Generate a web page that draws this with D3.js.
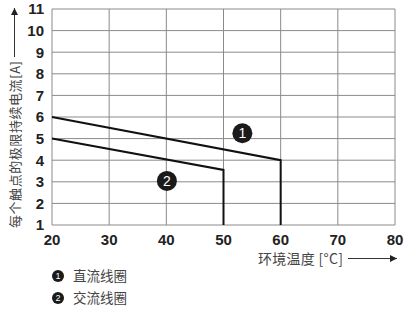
<!DOCTYPE html>
<html>
<head>
<meta charset="utf-8">
<script src="https://cdn.jsdelivr.net/npm/d3@7"></script>
<style>
  body { margin: 0; background: #fff; }
  text { font-family: "Liberation Sans", Arial, sans-serif; }
  .cjk { font-family: "Noto Sans CJK SC", sans-serif; }
</style>
</head>
<body>
<script>
var xTicks = [20, 30, 40, 50, 60, 70, 80];
var yTicks = [1, 2, 3, 4, 5, 6, 7, 8, 9, 10, 11];

// curve 1: DC coil, curve 2: AC coil
var dcCurve = [[20, 6], [60, 4], [60, 1]];
var acCurve = [[20, 5], [50, 3.55], [50, 1]];

var curveMarks = [
  { id: '1', x: 53.3, y: 5.25 },
  { id: '2', x: 40.1, y: 3.04 }
];
var legendItems = [
  { id: '1', label: '直流线圈' },
  { id: '2', label: '交流线圈' }
];

var width = 408, height = 310;
var svg = d3.select('body').append('svg').attr('width', width).attr('height', height);

var x = d3.scaleLinear().domain([20, 80]).range([52, 395]);
var y = d3.scaleLinear().domain([1, 11]).range([225, 9]);

// grid
svg.append('g').selectAll('line').data(yTicks).enter().append('line')
  .attr('x1', x(20)).attr('x2', x(80))
  .attr('y1', function(d) { return y(d); }).attr('y2', function(d) { return y(d); })
  .attr('stroke', '#8a8a8a').attr('stroke-width', 1);
svg.append('g').selectAll('line').data(xTicks).enter().append('line')
  .attr('y1', y(1)).attr('y2', y(11))
  .attr('x1', function(d) { return x(d); }).attr('x2', function(d) { return x(d); })
  .attr('stroke', '#8a8a8a').attr('stroke-width', 1);

// tick labels
svg.append('g').selectAll('text').data(yTicks).enter().append('text')
  .attr('x', 44).attr('y', function(d) { return y(d); }).attr('dy', '0.36em')
  .attr('text-anchor', 'end').attr('font-size', 15).attr('font-weight', 'bold').attr('fill', '#222')
  .text(function(d) { return d; });
svg.append('g').selectAll('text').data(xTicks).enter().append('text')
  .attr('x', function(d) { return x(d); }).attr('y', 245)
  .attr('text-anchor', 'middle').attr('font-size', 15).attr('font-weight', 'bold').attr('fill', '#222')
  .text(function(d) { return d; });

// curves
var line = d3.line().x(function(d) { return x(d[0]); }).y(function(d) { return y(d[1]); });
[dcCurve, acCurve].forEach(function(c) {
  svg.append('path').attr('d', line(c)).attr('fill', 'none')
    .attr('stroke', '#111').attr('stroke-width', 2);
});

// numbered markers
function badge(g, cx, cy, r, id, fs) {
  g.append('circle').attr('cx', cx).attr('cy', cy).attr('r', r).attr('fill', '#1a1a1a');
  g.append('text').attr('x', cx).attr('y', cy).attr('dy', '0.36em')
    .attr('text-anchor', 'middle').attr('font-size', fs).attr('fill', '#fff').text(id);
}
curveMarks.forEach(function(m) { badge(svg, x(m.x), y(m.y), 10, m.id, 14); });

// y axis title with arrow
svg.append('defs').append('marker').attr('id', 'arr').attr('viewBox', '0 0 10 10')
  .attr('refX', 10).attr('refY', 5).attr('markerWidth', 11).attr('markerHeight', 7)
  .attr('markerUnits', 'userSpaceOnUse').attr('orient', 'auto')
  .append('path').attr('d', 'M0,0L10,5L0,10Z').attr('fill', '#222');
svg.append('line').attr('x1', 14.5).attr('x2', 14.5).attr('y1', 57).attr('y2', 8)
  .attr('stroke', '#333').attr('stroke-width', 1).attr('marker-end', 'url(#arr)');
svg.append('text').attr('class', 'cjk')
  .attr('transform', 'translate(20,228) rotate(-90)')
  .attr('font-size', 13).attr('fill', '#444')
  .attr('textLength', 167).attr('lengthAdjust', 'spacing')
  .text('每个触点的极限持续电流[A]');

// x axis title with arrow
svg.append('text').attr('class', 'cjk').attr('x', 258).attr('y', 264)
  .attr('font-size', 14).attr('fill', '#444')
  .attr('textLength', 85).attr('lengthAdjust', 'spacing')
  .text('环境温度 [°C]');
svg.append('line').attr('x1', 348).attr('x2', 397).attr('y1', 258.5).attr('y2', 258.5)
  .attr('stroke', '#333').attr('stroke-width', 1).attr('marker-end', 'url(#arr)');

// legend
legendItems.forEach(function(d, i) {
  var ly = 276 + i * 22;
  badge(svg, 58, ly, 6, d.id, 9);
  svg.append('text').attr('class', 'cjk').attr('x', 73).attr('y', ly).attr('dy', '0.36em')
    .attr('font-size', 13.5).attr('fill', '#444').text(d.label);
});
</script>
</body>
</html>
